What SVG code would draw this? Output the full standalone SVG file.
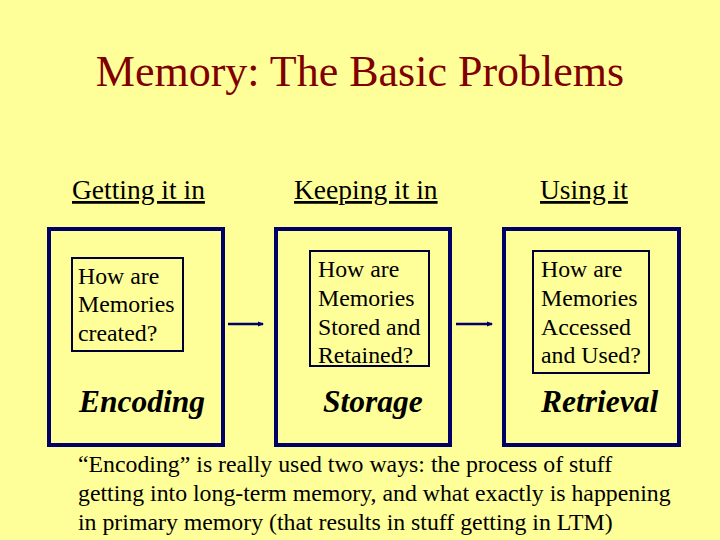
<svg xmlns="http://www.w3.org/2000/svg" width="720" height="540" viewBox="0 0 720 540">
<style>
.t{font-family:"Liberation Serif","Times New Roman",serif;fill:#000}
.title{font-size:44px;fill:#800000}
.hdr{font-size:27.5px;text-decoration:underline}
.q{font-size:23.8px}
.lbl{font-size:31.5px;font-weight:bold;font-style:italic}
.outer{fill:none;stroke:#000066;stroke-width:4}
.inner{fill:none;stroke:#000033;stroke-width:2}
.conn{stroke:#000066;stroke-width:2.5;fill:none}
</style>
<defs>
<marker id="ah" markerWidth="6" markerHeight="6" refX="5" refY="3" orient="auto" markerUnits="userSpaceOnUse">
<path d="M0,0.5 L6,3 L0,5.5 Z" fill="#000066"/>
</marker>
</defs>
<rect width="720" height="540" fill="#FFFF99"/>
<text class="t title" x="360" y="86" text-anchor="middle">Memory: The Basic Problems</text>
<text class="t hdr" x="72" y="199">Getting it in</text>
<text class="t hdr" x="294" y="199">Keeping it in</text>
<text class="t hdr" x="540" y="199">Using it</text>
<g id="encoding">
<rect class="outer" x="49" y="229" width="174" height="216"/>
<rect class="inner" x="72" y="258" width="111" height="93"/>
<text class="t q" x="78" y="284">How are</text>
<text class="t q" x="78" y="312">Memories</text>
<text class="t q" x="78" y="341">created?</text>
<text class="t lbl" x="79" y="412">Encoding</text>
</g>
<g id="storage">
<rect class="outer" x="276" y="229" width="174" height="216"/>
<rect class="inner" x="310" y="251" width="119" height="115"/>
<text class="t q" x="318" y="277">How are</text>
<text class="t q" x="318" y="306">Memories</text>
<text class="t q" x="318" y="335">Stored and</text>
<text class="t q" x="318" y="363">Retained?</text>
<text class="t lbl" x="323" y="412">Storage</text>
</g>
<g id="retrieval">
<rect class="outer" x="504" y="229" width="175" height="216"/>
<rect class="inner" x="533" y="251" width="116" height="122"/>
<text class="t q" x="541" y="277">How are</text>
<text class="t q" x="541" y="306">Memories</text>
<text class="t q" x="541" y="335">Accessed</text>
<text class="t q" x="541" y="363">and Used?</text>
<text class="t lbl" x="541" y="412">Retrieval</text>
</g>
<g id="connectors">
<line class="conn" x1="228" y1="324" x2="263" y2="324" marker-end="url(#ah)"/>
<line class="conn" x1="456" y1="324" x2="492" y2="324" marker-end="url(#ah)"/>
</g>
<text class="t q" x="78" y="472">“Encoding” is really used two ways: the process of stuff</text>
<text class="t q" x="78" y="501">getting into long-term memory, and what exactly is happening</text>
<text class="t q" x="78" y="530">in primary memory (that results in stuff getting in LTM)</text>
</svg>
